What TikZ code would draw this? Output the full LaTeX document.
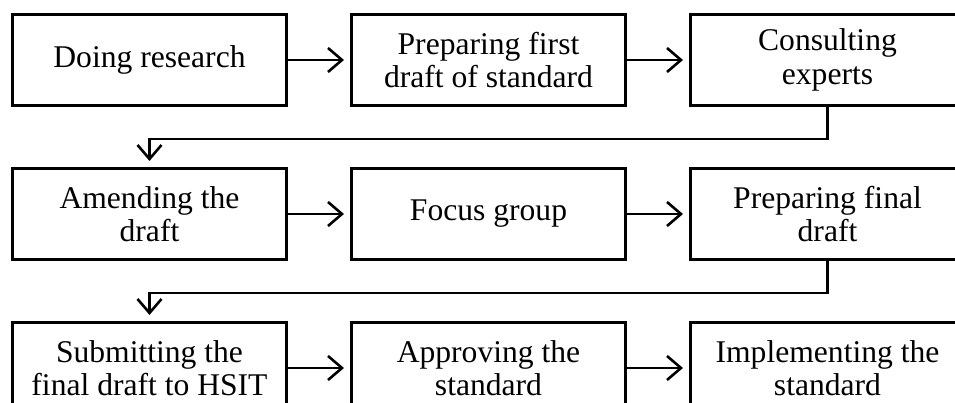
\documentclass[tikz,border=0pt]{standalone}
\usepackage{fontspec}
\setmainfont{Liberation Serif}
\usetikzlibrary{arrows.meta, positioning}

\begin{document}
\begin{tikzpicture}[x=1pt, y=1pt,
    stage/.style={draw, line width=3pt, minimum width=274pt, minimum height=91pt,
      inner sep=0pt, align=center, font=\fontsize{31.6}{33.5}\selectfont},
    flow/.style={-{Straight Barb[length=14pt, width=24pt, line width=2.6pt]},
      line width=2.6pt, shorten >=6pt}]
    \useasboundingbox (0,0) rectangle (955,403);
    \clip (0,0) rectangle (955,403);
    % first row
    \node[stage] (research) at (149.5,343) {Doing research};
    \node[stage, right=62pt of research] (firstdraft) {Preparing first\\draft of standard};
    \node[stage, right=62pt of firstdraft] (consult) {Consulting\\experts};
    % second row
    \node[stage, below=60pt of research] (amend) {Amending the\\draft};
    \node[stage, right=62pt of amend] (focus) {Focus group};
    \node[stage, right=62pt of focus] (finaldraft) {Preparing final\\draft};
    % third row
    \node[stage, below=60pt of amend] (submit) {Submitting the\\final draft to HSIT};
    \node[stage, right=62pt of submit] (approve) {Approving the\\standard};
    \node[stage, right=62pt of approve] (implement) {Implementing the\\standard};

    \draw[flow] (research) -- (firstdraft);
    \draw[flow] (firstdraft) -- (consult);
    \draw[flow] (consult.south) -- ++(0,-32) -| (amend.north);
    \draw[flow] (amend) -- (focus);
    \draw[flow] (focus) -- (finaldraft);
    \draw[flow] (finaldraft.south) -- ++(0,-32) -| (submit.north);
    \draw[flow] (submit) -- (approve);
    \draw[flow] (approve) -- (implement);
\end{tikzpicture}
\end{document}
